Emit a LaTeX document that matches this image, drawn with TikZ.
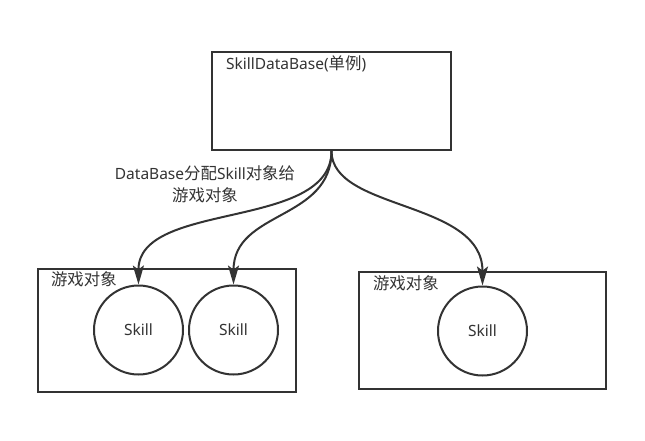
\documentclass[tikz,border=0pt]{standalone}
\usepackage{fontspec}
\setmainfont{Noto Sans}
\newfontfamily\cjk[Scale=1.06]{Noto Sans CJK SC}
\usepackage{tikz}
\usetikzlibrary{arrows.meta,positioning}
\definecolor{linegray}{HTML}{333333}

\begin{document}
\begin{tikzpicture}[x=1pt,y=-1pt,
  line width=2pt, draw=linegray, text=linegray,
  font=\fontsize{15.5}{22}\selectfont,
  >={Stealth[length=19pt,width=11pt,inset=4pt]},
  box/.style={draw=linegray,rectangle,inner sep=0pt},
  skill/.style={draw=linegray,circle,minimum size=89pt,inner sep=0pt},
  assign/.style={draw=linegray,->}]
\useasboundingbox (0,0) rectangle (645,440);
% database
\node[box,minimum width=239pt,minimum height=98pt] (db) at (331.5,101) {};
\node[below right,inner sep=0pt] (dblabel) at (225,55) {SkillDataBase({\cjk 单例})};
% game objects
\node[box,minimum width=258pt,minimum height=123pt] (objA) at (167,330.5) {};
\node[below right,inner sep=0pt] (objAlabel) at (50,271) {\cjk 游戏对象};
\node[box,minimum width=247pt,minimum height=117pt] (objB) at (482.5,330.5) {};
\node[below right,inner sep=0pt] (objBlabel) at (372,275) {\cjk 游戏对象};
% skills
\node[skill] (skillA) at (138.5,330) {Skill};
\node[skill] (skillB) at (233.5,330) {Skill};
\node[skill] (skillC) at (482.5,331) {Skill};
% note
\node[align=center,inner sep=0pt] (note) at (205,184) {DataBase{\cjk 分配}Skill{\cjk 对象给}\\{\cjk 游戏对象}};
% assignments
\draw[assign] (db.south) .. controls ++(0,80) and (138,200) .. (skillA.north);
\draw[assign] (db.south) .. controls ++(0,70) and (233.5,210) .. (skillB.north);
\draw[assign] (db.south) .. controls ++(0,60) and (482.5,200) .. (skillC.north);
\end{tikzpicture}
\end{document}
